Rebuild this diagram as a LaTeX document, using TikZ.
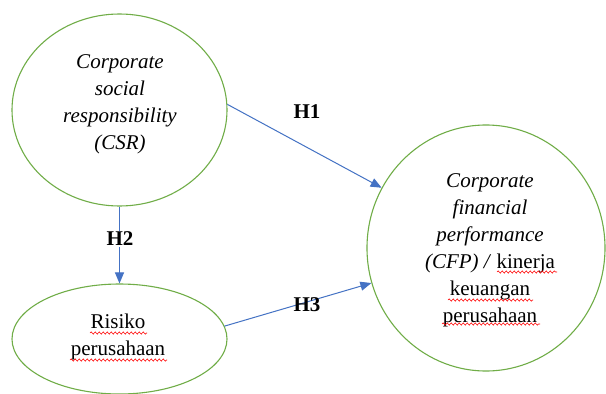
\documentclass[tikz,border=0pt]{standalone}
\usepackage{fontspec}
\setmainfont{Liberation Serif}
\usetikzlibrary{arrows.meta,shapes.geometric,decorations.pathmorphing}
\definecolor{ellgreen}{RGB}{112,173,71}
\definecolor{arrblue}{RGB}{68,114,196}
\tikzset{
  oval/.style={draw=ellgreen, line width=1.1pt, ellipse, inner sep=0pt},
  txt/.style={align=center, font=\fontsize{21}{27}\selectfont},
  hyp/.style={font=\fontsize{21}{27}\selectfont\bfseries, inner sep=1pt},
  link/.style={draw=arrblue, line width=1pt, -{Triangle[length=11pt,width=9pt]}},
  squiggle/.style={draw=red, line width=0.6pt, decorate, decoration={snake, segment length=4pt, amplitude=1.1pt}}
}
\begin{document}
\begin{tikzpicture}[x=1pt,y=-1pt]
\path[use as bounding box, fill=white] (0,0) rectangle (606,394);
\node[oval, minimum width=215pt, minimum height=192pt] (csr) at (119.5,110) {};
\node[oval, minimum width=238pt, minimum height=246pt] (cfp) at (486,248) {};
\node[oval, minimum width=215pt, minimum height=110pt] (risk) at (119.5,339) {};
\node[txt, font=\fontsize{21}{27}\selectfont\itshape] (csrt) at (120,104) {Corporate\\social\\responsibility\\(CSR)};
\node[txt] (cfpt) at (490,250) {\textit{Corporate}\\\textit{financial}\\\textit{performance}\\\textit{(CFP) /} kinerja\\keuangan\\perusahaan};
\node[txt] (riskt) at (118,337) {Risiko\\perusahaan};
\draw[squiggle] (90,333) -- (147,333);
\draw[squiggle] (70,360) -- (167,360);
\draw[squiggle] (497,272) -- (557,272);
\draw[squiggle] (448,300) -- (533,300);
\draw[squiggle] (442,324) -- (540,324);
\draw[link] (csr.3) -- (cfp.150);
\draw[link] (csr.south) -- (risk.north);
\draw[link] (risk.7) -- (cfp.197);
\node[hyp] (h1) at (307,112) {H1};
\node[hyp, fill=white] (h2) at (120,239) {H2};
\node[hyp] (h3) at (307,305) {H3};
\end{tikzpicture}
\end{document}
